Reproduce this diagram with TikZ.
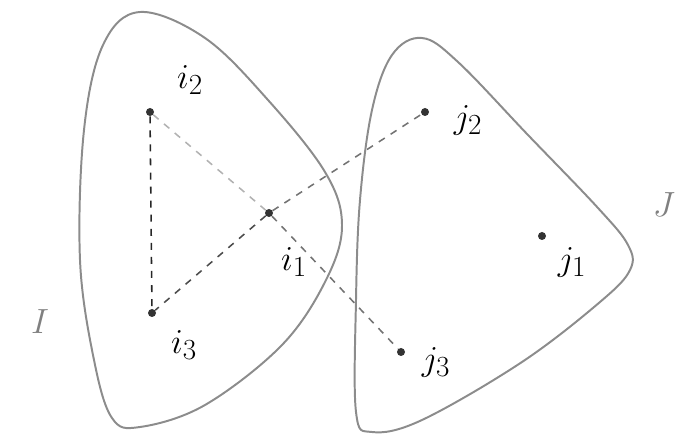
\documentclass[tikz,border=0pt]{standalone}
\usepackage{amsmath}
\usetikzlibrary{positioning}

\begin{document}
\begin{tikzpicture}[
    x=0.025cm, y=-0.025cm,
    blob/.style={draw=black!45, line width=1.4pt},
    pt/.style={circle, fill=black!80, inner sep=0pt, minimum size=0.2cm},
    lab/.style={font=\fontsize{28}{32}\selectfont, inner sep=1pt},
    setlab/.style={font=\fontsize{30}{34}\selectfont, text=black!50},
    link/.style={dashed, line width=1.1pt, dash pattern=on 5pt off 5pt}
]
    \useasboundingbox (0,0) rectangle (698,438);

    % the two sets
    \draw[blob] plot[smooth cycle, tension=0.6] coordinates {(140,12) (205,38) (268,100) (325,172) (342,225) (326,280) (282,345) (205,405) (140,427) (112,418) (94,360) (80,260) (84,130) (103,45)};
    \draw[blob] plot[smooth cycle, tension=0.6] coordinates {(422,38) (458,62) (528,135) (598,208) (628,245) (630,270) (600,302) (522,362) (422,420) (372,432) (356,412) (356,300) (360,200) (372,110) (392,55)};

    % points
    \node[pt] (i2) at (150,112) {};
    \node[pt] (i1) at (269,213) {};
    \node[pt] (i3) at (152,313) {};
    \node[pt] (j2) at (425,112) {};
    \node[pt] (j1) at (542,236) {};
    \node[pt] (j3) at (401,352) {};

    \node[lab] (li2) at (190,80) {$i_2$};
    \node[lab] (li1) at (294,262) {$i_1$};
    \node[lab] (li3) at (184,345) {$i_3$};
    \node[lab] (lj2) at (468,120) {$j_2$};
    \node[lab] (lj1) at (572,262) {$j_1$};
    \node[lab] (lj3) at (436,362) {$j_3$};

    \node[setlab] (setI) at (40,322) {$I$};
    \node[setlab] (setJ) at (664,205) {$J$};

    % links
    \draw[link, black!85] (i2) -- (i3);
    \draw[link, black!30] (i2) -- (i1);
    \draw[link, black!70] (i1) -- (i3);
    \draw[link, black!55] (i1) -- (j2);
    \draw[link, black!55] (i1) -- (j3);
\end{tikzpicture}
\end{document}
